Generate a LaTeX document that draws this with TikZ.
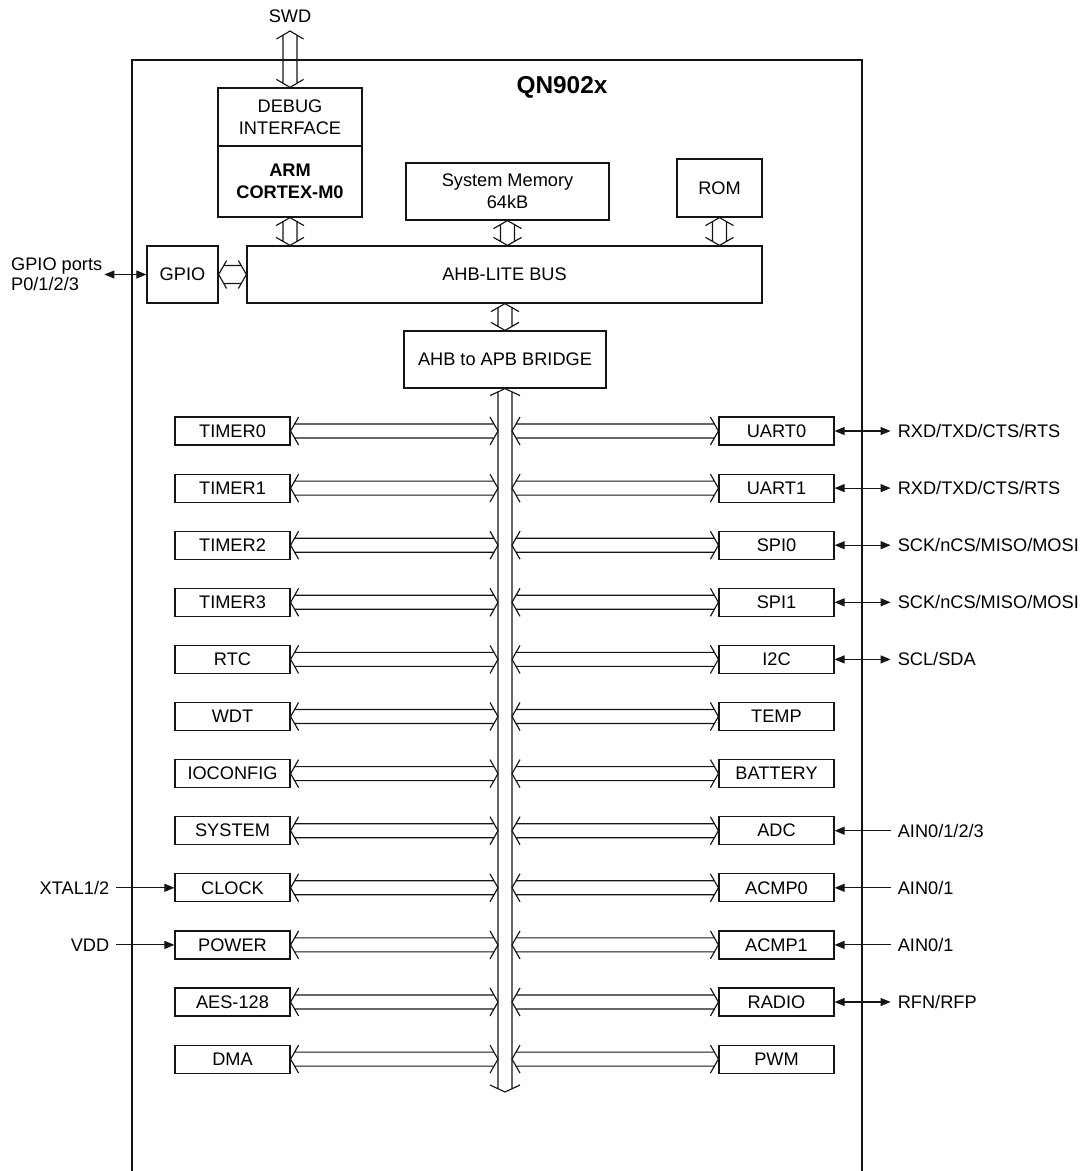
\documentclass[tikz,border=0pt]{standalone}
\usepackage{fontspec}
\setmainfont{Liberation Sans}
\usetikzlibrary{arrows.meta,positioning,calc}
\definecolor{ink}{HTML}{151515}
\newcommand{\dsize}{\fontsize{18.2}{22}\selectfont}
\tikzset{
  box/.style={rectangle, draw=ink, line width=1.2pt, fill=white, align=center,
              font=\dsize, inner sep=0pt},
  per/.style={box, minimum width=115, minimum height=28},
  lbl/.style={font=\dsize, inner xsep=7pt, inner ysep=2pt},
  frame/.style={draw=ink, line width=1.2pt},
  fl/.style={-{Triangle[length=10pt,width=8pt]}, draw=ink, line width=1.1pt},
  flb/.style={{Triangle[length=10pt,width=8pt]}-{Triangle[length=10pt,width=8pt]},
              draw=ink, line width=1.1pt},
  % hollow bus arrows
  busgap/.store in=\busgap, busgap=7pt,
  buswing/.store in=\buswing, buswing=14pt,
  buslen/.store in=\buslen, buslen=8pt,
  busin/.store in=\busin, busin=4pt,
  hbus/.style={draw=ink, line width=1.15pt, to path={
    let \p1=(\tikztostart), \p2=(\tikztotarget) in
    (\x1+\buslen,\y1+\buswing) -- (\x1,\y1) -- (\x1+\buslen,\y1-\buswing)
    (\x1+\busin,\y1+\busgap) -- (\x2-\busin,\y2+\busgap)
    (\x1+\busin,\y1-\busgap) -- (\x2-\busin,\y2-\busgap)
    (\x2-\buslen,\y2+\buswing) -- (\x2,\y2) -- (\x2-\buslen,\y2-\buswing)}},
  vbus/.style={draw=ink, line width=1.15pt, to path={
    let \p1=(\tikztostart), \p2=(\tikztotarget) in
    (\x1+\buswing,\y1-\buslen) -- (\x1,\y1) -- (\x1-\buswing,\y1-\buslen)
    (\x1+\busgap,\y1-\busin) -- (\x2+\busgap,\y2+\busin)
    (\x1-\busgap,\y1-\busin) -- (\x2-\busgap,\y2+\busin)
    (\x2+\buswing,\y2+\buslen) -- (\x2,\y2) -- (\x2-\buswing,\y2+\buslen)}}
}

\begin{document}
\begin{tikzpicture}[x=1pt, y=-1pt]
  \useasboundingbox (0,0) rectangle (1083,1171);
  % chip outline
  \draw[frame] (132,1171) |- (862,60) -- (862,1171);
  \node[font=\fontsize{24.4}{28}\selectfont\bfseries] (chip) at (562,87) {QN902x};

  % core, memories, AHB
  \node[box, minimum width=144, minimum height=58] (dbg) at (290,117) {DEBUG\\INTERFACE};
  \node[box, minimum width=144, minimum height=71, font=\dsize\bfseries] (arm) at (290,181.5) {ARM\\CORTEX-M0};
  \node[box, minimum width=203, minimum height=57] (mem) at (507.5,191.5) {System Memory\\64kB};
  \node[box, minimum width=85, minimum height=58] (rom) at (719.5,188) {ROM};
  \node[box, minimum width=71, minimum height=57] (gpio) at (182.5,274.5) {GPIO};
  \node[box, minimum width=515, minimum height=57] (ahb) at (504.5,274.5) {AHB-LITE BUS};
  \node[box, minimum width=202, minimum height=57] (bridge) at (505,359.5) {AHB to APB BRIDGE};
  \node[font=\dsize] (swd) at (290,16) {SWD};
  \node[lbl, left=42pt of gpio, align=left, inner xsep=2pt, font=\fontsize{18.2}{20}\selectfont] (gpioports) {GPIO ports\\P0/1/2/3};

  \draw[vbus, buswing=13.5pt] ([yshift=-15pt]swd.center) to (dbg.north);
  \draw[vbus] (arm.south) to (arm.south |- ahb.north);
  \draw[vbus] (mem.south) to (mem.south |- ahb.north);
  \draw[vbus] (rom.south) to (rom.south |- ahb.north);
  \draw[vbus] (bridge.north |- ahb.south) to (bridge.north);
  \draw[hbus, busgap=9pt, busin=5pt] (gpio.east) to (ahb.west);
  \draw[flb] (gpioports.east) -- (gpio.west);

  % APB peripherals
  \coordinate (apbend) at (505,1092);
  \coordinate (apbL) at (498,400);
  \coordinate (apbR) at (512,400);
  \draw[vbus, buswing=15pt, buslen=7pt] (bridge.south) to (apbend);

  \foreach \nm/\txt [count=\i from 0] in {timer0/TIMER0,timer1/TIMER1,timer2/TIMER2,
      timer3/TIMER3,rtc/RTC,wdt/WDT,ioconf/IOCONFIG,sys/SYSTEM,clk/CLOCK,pwr/POWER,
      aes/AES-128,dma/DMA} {
    \node[per] (\nm) at (232.5,{431+57.1*\i}) {\txt};
    \draw[hbus] (\nm.east) to (apbL |- \nm.east);
  }
  \foreach \nm/\txt [count=\i from 0] in {uart0/UART0,uart1/UART1,spi0/SPI0,spi1/SPI1,
      i2c/I2C,temp/TEMP,batt/BATTERY,adc/ADC,acmp0/ACMP0,acmp1/ACMP1,radio/RADIO,pwm/PWM} {
    \node[per] (\nm) at (776.5,{431+57.1*\i}) {\txt};
    \draw[hbus] (apbR |- \nm.west) to (\nm.west);
  }

  % external pins
  \node[lbl, right=56pt of uart0] (uart0pin) {RXD/TXD/CTS/RTS};
  \node[lbl, right=56pt of uart1] (uart1pin) {RXD/TXD/CTS/RTS};
  \node[lbl, right=56pt of spi0] (spi0pin) {SCK/nCS/MISO/MOSI};
  \node[lbl, right=56pt of spi1] (spi1pin) {SCK/nCS/MISO/MOSI};
  \node[lbl, right=56pt of i2c] (i2cpin) {SCL/SDA};
  \node[lbl, right=56pt of adc] (adcpin) {AIN0/1/2/3};
  \node[lbl, right=56pt of acmp0] (acmp0pin) {AIN0/1};
  \node[lbl, right=56pt of acmp1] (acmp1pin) {AIN0/1};
  \node[lbl, right=56pt of radio] (radiopin) {RFN/RFP};
  \node[lbl, left=58pt of clk] (xtal) {XTAL1/2};
  \node[lbl, left=58pt of pwr] (vdd) {VDD};

  \foreach \a in {uart0,uart1,spi0,spi1,i2c,radio}
    \draw[flb] (\a.east) -- (\a pin.west);
  \foreach \a in {adc,acmp0,acmp1}
    \draw[fl] (\a pin.west) -- (\a.east);
  \draw[fl] (xtal.east) -- (clk.west);
  \draw[fl] (vdd.east) -- (pwr.west);
\end{tikzpicture}
\end{document}
